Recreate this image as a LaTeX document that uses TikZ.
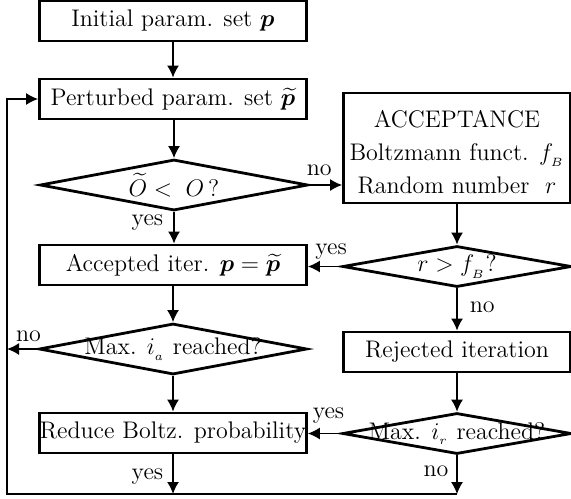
\documentclass[tikz,border=0pt]{standalone}
\usepackage{amsmath,bm}
\usetikzlibrary{shapes.geometric,arrows.meta}

\def\leftwidth{133.5pt}
\def\rightwidth{113.5pt}
\def\boxheight{20pt}

\begin{document}
\begin{tikzpicture}[x=0.5pt,y=-0.5pt,
% Here are defined the blocks, the decisions and the labels
bloc/.style={
rectangle, draw=black, line width=1.4pt, inner sep=0,
minimum height=\boxheight },
bloc1/.style={
bloc,
minimum width=\leftwidth },
bloc2/.style={
bloc,
minimum width=\rightwidth },
decision/.style={
diamond, draw=black, line width=1.4pt, inner sep=0 },
decision1/.style={
decision,
minimum width=134pt, minimum height=25.5pt },
decision2/.style={
decision,
minimum width=114.5pt, minimum height=20.5pt },
txt/.style={
font=\large, inner sep=0, align=center },
answer/.style={
font=\large, inner sep=0 },
flow/.style={
-{Latex[length=6pt,width=6pt]}, thick },
]
\useasboundingbox (0,0) rectangle (571,498);

%%%%%%%%%%%%%%%%%%%%%%%%
%%% THE LEFT COLUMN
%%%%%%%%%%%%%%%%%%%%%%%%
\node[bloc1] (init) at (173,21) {};
\node[txt] at (init.center) {Initial param. set $\bm{p}$};

\node[bloc1] (pert) at (173,99) {};
\node[txt] at (pert.center) {Perturbed param. set $\widetilde{\bm{p}}$};

\node[decision1] (d1) at (174,185) {};
\node[txt] at (d1.center) {$\widetilde{O} <\; O\,$?};

\node[bloc1] (acc) at (173,265) {};
\node[txt] at (acc.center) {Accepted iter. $\bm{p} = \widetilde{\bm{p}}$};

\node[decision1] (d2) at (173,349) {};
\node[txt] at (d2.center) {Max. $i_{_a}$ reached?};

\node[bloc1] (red) at (173,433) {};
\node[txt] at (red.center) {Reduce Boltz. probability};

%%%%%%%%%%%%%%%%%%%%%%%%
%%% THE RIGHT COLUMN
%%%%%%%%%%%%%%%%%%%%%%%%
\node[bloc2, minimum height=55pt] (accbox) at (457,148) {};
\node[txt] at ([yshift=-2pt]accbox.center) {ACCEPTANCE\\[2.5pt] Boltzmann funct. $f_{_B}$\\[2.5pt] Random number~ $r$};

\node[decision2] (d3) at (457,266.5) {};
\node[txt] at (d3.center) {$r > f_{_B}$?};

\node[bloc2] (rej) at (457,352) {};
\node[txt] at (rej.center) {Rejected iteration};

\node[decision2] (d4) at (457,433.5) {};
\node[txt] at (d4.center) {Max. $i_{_r}$ reached?};

% corner of the loop back
\coordinate (lb) at (7,494);

%%%%%%%%%%%%%%%%%%%%%%%%
%%% THE CONNECTORS
%%%%%%%%%%%%%%%%%%%%%%%%
\draw[flow] (init) -- (pert);
\draw[flow] (pert.south -| d1.north) -- (d1.north);
\draw[flow] (d1.south) -- node[answer, left=5pt, pos=0.35] {yes} (d1.south |- acc.north);
\draw[flow] (d1.east) -- node[answer, above=4pt, pos=0.3] {no} (d1.east -| accbox.west);
\draw[flow] (accbox) -- (d3);
\draw[flow] (d3.west) -- node[answer, above=3pt, pos=0.3] {yes} (d3.west -| acc.east);
\draw[flow] (d3) -- node[answer, right=6pt, pos=0.45] {no} (rej);
\draw[flow] (acc) -- (d2);
\draw[flow] (d2.west) -- node[answer, above=3pt, pos=0.3] {no} (d2.west -| lb);
\draw[flow] (d2) -- (red);
\draw[flow, semithick] (rej) -- (d4);
\draw[flow, semithick] (d4.west) -- node[answer, above=5pt, pos=0.38] {yes} (d4.west -| red.east);
\draw[flow, semithick] (d4) -- node[answer, left=4pt, pos=0.4] {no} (d4.south |- lb);
\draw[flow] (red) -- node[answer, left=4.5pt, pos=0.55] {yes} (red.south |- lb);
\draw[flow] (d4.south |- lb) -- (lb) |- (pert.west);

\end{tikzpicture}
\end{document}
